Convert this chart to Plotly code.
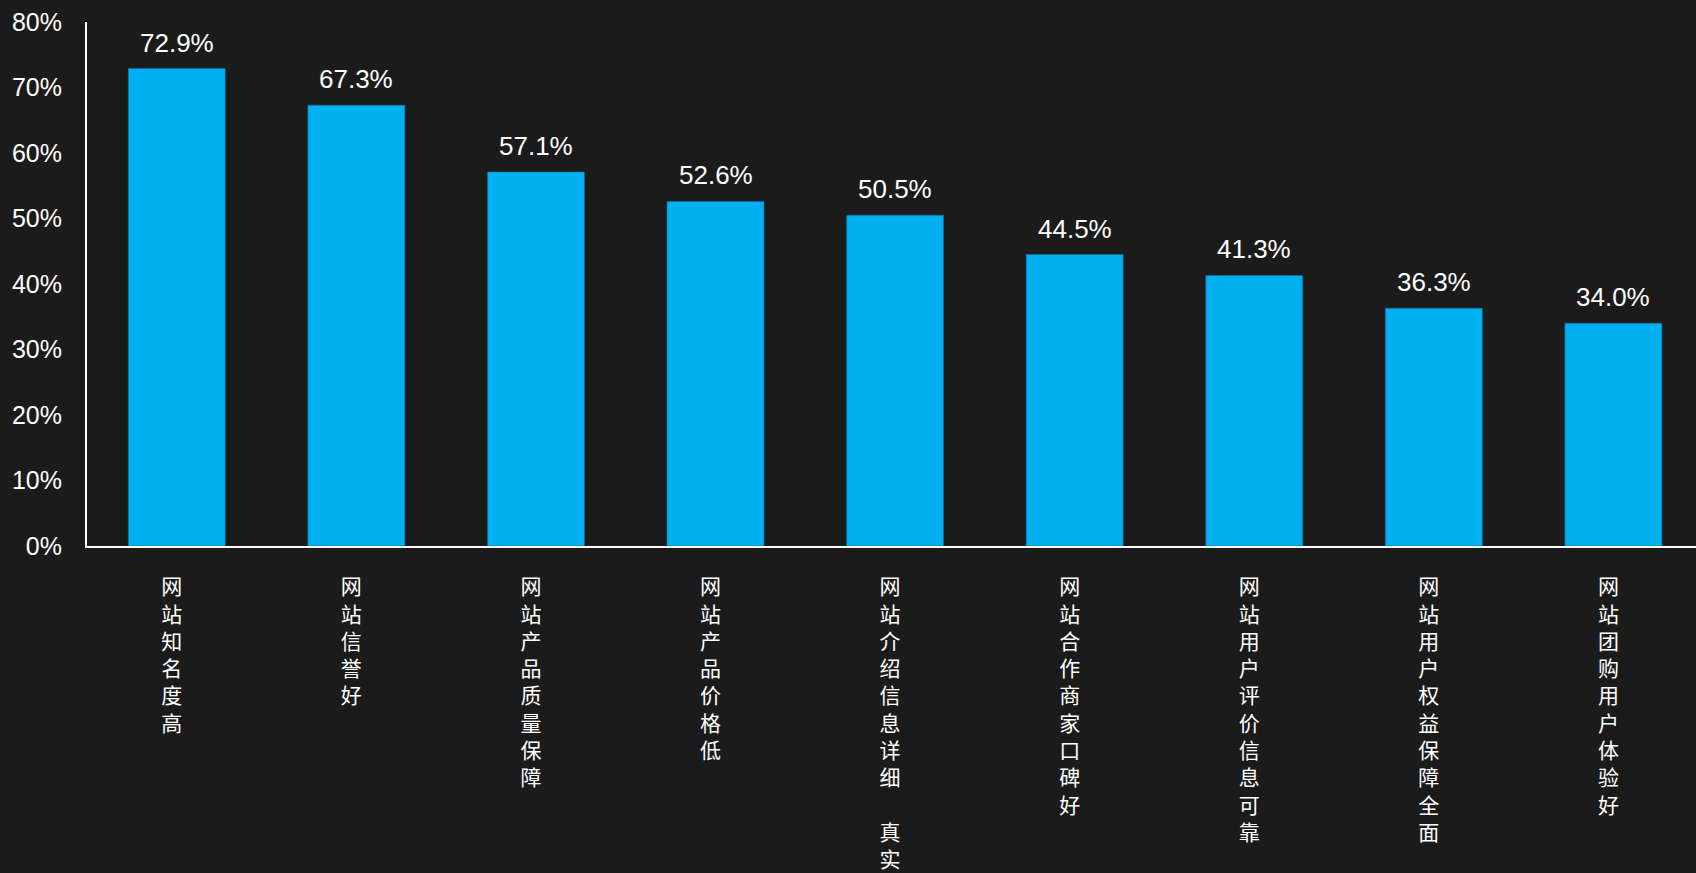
import plotly.graph_objects as go

categories = ["网站知名度高", "网站信誉好", "网站产品质量保障", "网站产品价格低",
              "网站介绍信息详细\u3000真实", "网站合作商家口碑好", "网站用户评价信息可靠",
              "网站用户权益保障全面", "网站团购用户体验好"]
values = [72.9, 67.3, 57.1, 52.6, 50.5, 44.5, 41.3, 36.3, 34.0]
y_ticks = [0, 10, 20, 30, 40, 50, 60, 70, 80]
y_tick_labels = [f"{v}%" for v in y_ticks]

BG = "#1b1b1b"
BAR = "#00B0F0"
FONT = "Liberation Sans, Arial, Noto Sans CJK SC, sans-serif"

vertical_labels = ["<br>".join(list(c)) for c in categories]
xs = list(range(len(categories)))

fig = go.Figure()
fig.add_trace(go.Bar(
    x=xs, y=values, width=0.54,
    marker=dict(color=BAR, line=dict(color="#0a6f9a", width=0.6)),
    hoverinfo="skip",
))

for x, v in zip(xs, values):
    fig.add_annotation(x=x, y=v, text=f"{v:.1f}%", showarrow=False,
                       yanchor="middle", yshift=26,
                       font=dict(family=FONT, size=26, color="white"))

fig.update_layout(
    width=1696, height=873,
    paper_bgcolor=BG, plot_bgcolor=BG,
    margin=dict(l=87, r=0, t=22, b=325),
    showlegend=False,
    font=dict(family=FONT, color="white"),
    bargap=0.46,
)
fig.update_xaxes(
    range=[-0.5, 8.46], tickmode="array", tickvals=xs, ticktext=vertical_labels,
    tickangle=0, showgrid=False, zeroline=False,
    showline=True, linecolor="white", linewidth=2, ticks="",
    tickfont=dict(family="Noto Sans CJK SC, sans-serif", size=21, color="white"),
    ticklabelstandoff=21, ticklabelshift=-5,
)
fig.update_yaxes(
    range=[0, 80], tickmode="array", tickvals=y_ticks, ticktext=y_tick_labels,
    showgrid=False, zeroline=False, showline=True, linecolor="white", linewidth=2,
    ticks="", tickfont=dict(family=FONT, size=25, color="white"),
    ticklabelstandoff=18,
)

fig.write_html("out.html")
